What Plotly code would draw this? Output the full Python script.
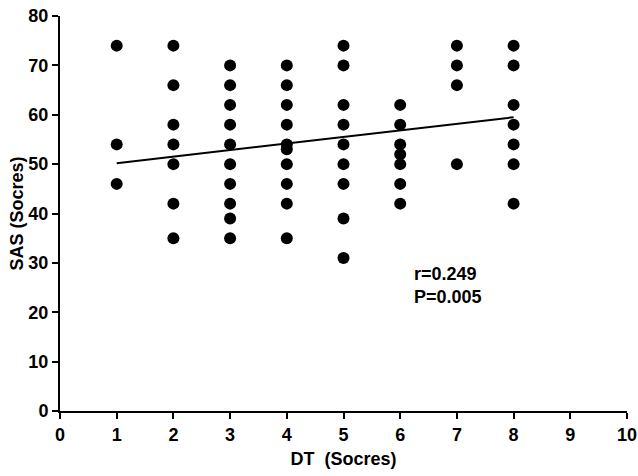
import plotly.graph_objects as go

# DT score groups and the SAS scores read at each group
dt_values = [1, 2, 3, 4, 5, 6, 7, 8]
sas_by_dt = [
    [74, 54, 46],
    [74, 66, 58, 54, 50, 42, 35],
    [70, 66, 62, 58, 54, 50, 46, 42, 39, 35],
    [70, 66, 62, 58, 54, 53, 50, 46, 42, 35],
    [74, 70, 62, 58, 54, 50, 46, 39, 31],
    [62, 58, 54, 52, 50, 46, 42],
    [74, 70, 66, 50],
    [74, 70, 62, 58, 54, 50, 42],
]

# regression line end points
fit_x = [1, 8]
fit_y = [50.2, 59.5]

stats_text = "r=0.249<br>P=0.005"

xs, ys = [], []
for dt, scores in zip(dt_values, sas_by_dt):
    for s in scores:
        xs.append(dt)
        ys.append(s)

fig = go.Figure()
fig.add_trace(go.Scatter(x=xs, y=ys, mode="markers",
                         marker=dict(size=12, color="black"), cliponaxis=False))
fig.add_trace(go.Scatter(x=fit_x, y=fit_y, mode="lines",
                         line=dict(color="black", width=2)))

fig.add_annotation(x=6.2, y=25.5, xref="x", yref="y", text=stats_text,
                   showarrow=False, xanchor="left", align="left",
                   font=dict(size=18, weight="bold", color="black"))

axis_common = dict(showgrid=False, zeroline=False, showline=True, linecolor="black",
                   linewidth=2, ticks="outside", ticklen=6, tickwidth=2, tickcolor="black",
                   tickfont=dict(size=18, weight="bold", color="black"))

fig.update_xaxes(range=[0, 10], dtick=1, title=dict(text="DT  (Socres)",
                 font=dict(size=18, weight="bold", color="black"), standoff=9),
                 **axis_common)
fig.update_yaxes(range=[0, 80], dtick=10, title=dict(text="SAS (Socres)",
                 font=dict(size=18, weight="bold", color="black"), standoff=0),
                 **axis_common)

fig.update_layout(width=638, height=476, showlegend=False,
                  plot_bgcolor="white", paper_bgcolor="white",
                  font=dict(family="Liberation Sans, Arial, sans-serif"),
                  margin=dict(l=60, r=11, t=16, b=65, autoexpand=False))

# drop the default 8px body margin so the figure sits at the window corner
fig.write_html("out.html", config={"displayModeBar": False},
               post_script="document.body.style.margin='0px';")
